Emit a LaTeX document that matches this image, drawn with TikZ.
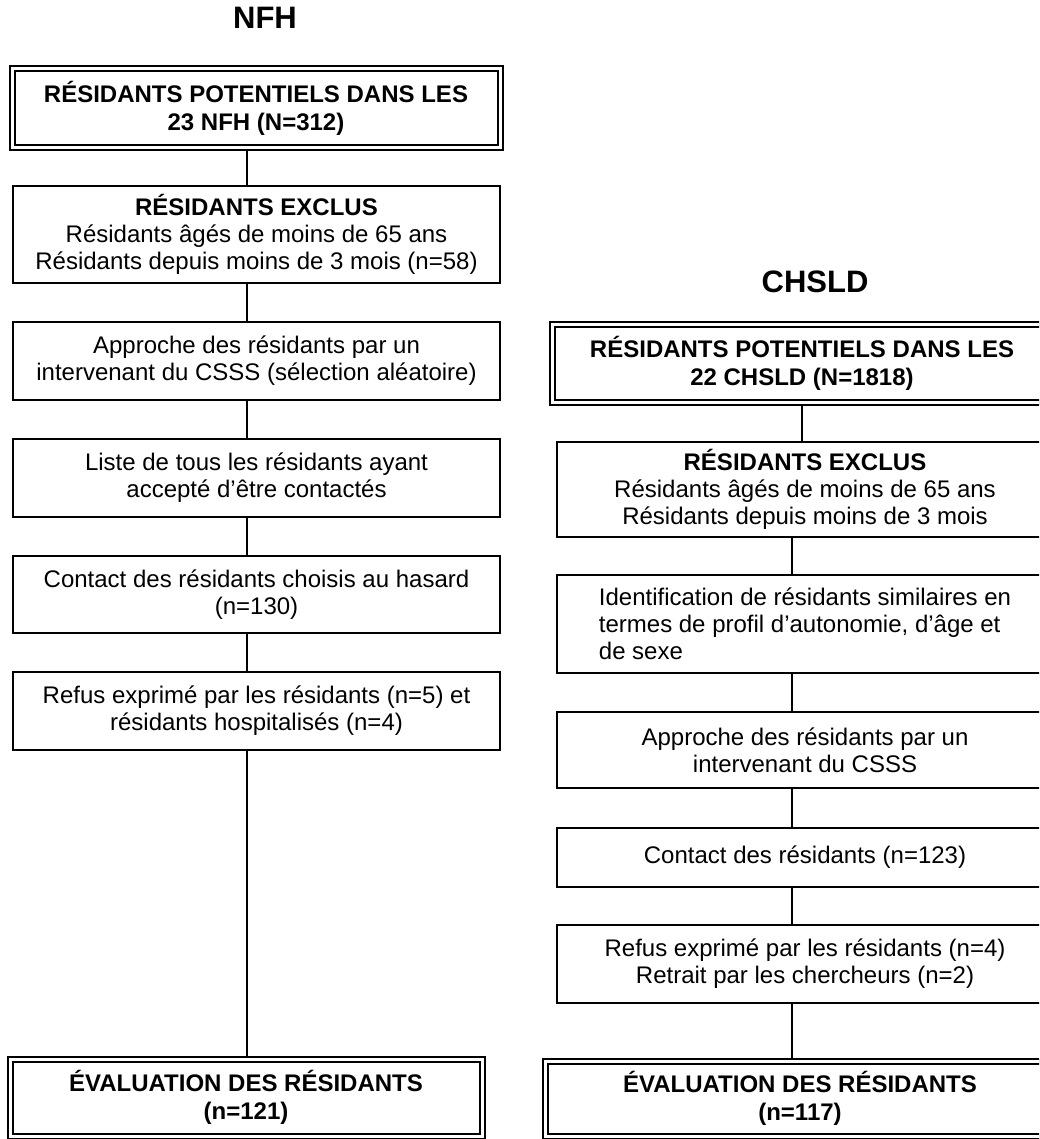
\documentclass[tikz,border=0pt]{standalone}
\usepackage{fontspec}
\setmainfont{Liberation Sans}
\usetikzlibrary{backgrounds}
\begin{document}
\begin{tikzpicture}[x=1pt,y=-1pt,
  txt/.style={font=\fontsize{24}{27}\selectfont, align=center, inner sep=0pt},
  bftxt/.style={font=\fontsize{24}{28}\selectfont\bfseries, align=center, inner sep=0pt},
  ttl/.style={font=\fontsize{31}{36}\selectfont\bfseries, inner sep=0pt},
  box/.style={txt, draw, line width=1.4pt, fill=white},
  dbox/.style={bftxt, draw, double, double distance=3pt, line width=2pt},
  conn/.style={line width=1.3pt}
]
\useasboundingbox (0,0) rectangle (1039,1139);
\clip (0,0) rectangle (1039,1139);

% titles
\node[ttl] (t1) at (265,18) {NFH};
\node[ttl] (t2) at (815,282) {CHSLD};

% left column
\node[dbox, minimum width=488pt, minimum height=79pt] (L1) at (256,108)
  {RÉSIDANTS POTENTIELS DANS LES\\23 NFH (N=312)};
\node[box, minimum width=487pt, minimum height=97pt] (L2) at (256.5,234.5)
  {{\bfseries RÉSIDANTS EXCLUS}\\Résidants âgés de moins de 65 ans\\Résidants depuis moins de 3 mois (n=58)};
\node[box, minimum width=487pt, minimum height=78pt] (L3) at (256.5,361)
  {Approche des résidants par un\\intervenant du CSSS (sélection aléatoire)};
\node[box, minimum width=487pt, minimum height=78pt] (L4) at (256.5,478)
  {Liste de tous les résidants ayant\\accepté d’être contactés};
\node[box, minimum width=487pt, minimum height=77pt] (L5) at (256.5,594.5)
  {Contact des résidants choisis au hasard\\(n=130)};
\node[box, minimum width=487pt, minimum height=78pt] (L6) at (256.5,711)
  {Refus exprimé par les résidants (n=5) et\\résidants hospitalisés (n=4)};
\node[dbox, minimum width=472pt, minimum height=76.5pt] (L7) at (246,1097.75)
  {ÉVALUATION DES RÉSIDANTS\\(n=121)};

% right column (boxes run past the right edge)
\node[dbox, minimum width=500pt, minimum height=78.5pt] (R1) at (802,363.25)
  {RÉSIDANTS POTENTIELS DANS LES\\22 CHSLD (N=1818)};
\node[box, minimum width=496pt, minimum height=95pt] (R2) at (805,489.5)
  {{\bfseries RÉSIDANTS EXCLUS}\\Résidants âgés de moins de 65 ans\\Résidants depuis moins de 3 mois};
\node[box, align=left, minimum width=496pt, minimum height=98pt] (R3) at (805,624)
  {Identification de résidants similaires en\\termes de profil d’autonomie, d’âge et\\de sexe};
\node[box, minimum width=496pt, minimum height=76pt] (R4) at (805,750)
  {Approche des résidants par un\\intervenant du CSSS};
\node[box, minimum width=496pt, minimum height=59pt] (R5) at (805,857.5)
  {Contact des résidants (n=123)};
\node[box, minimum width=496pt, minimum height=78pt] (R6) at (805,964)
  {Refus exprimé par les résidants (n=4)\\Retrait par les chercheurs (n=2)};
\node[dbox, minimum width=510pt, minimum height=74.5pt] (R7) at (800,1098.75)
  {ÉVALUATION DES RÉSIDANTS\\(n=117)};

\coordinate (lx) at (247,0);
\coordinate (rxa) at (802,0);
\coordinate (rx) at (792,0);

\begin{scope}[on background layer]
\draw[conn] (L1.south -| lx) -- (L2.north -| lx);
\draw[conn] (L2.south -| lx) -- (L3.north -| lx);
\draw[conn] (L3.south -| lx) -- (L4.north -| lx);
\draw[conn] (L4.south -| lx) -- (L5.north -| lx);
\draw[conn] (L5.south -| lx) -- (L6.north -| lx);
\draw[conn] (L6.south -| lx) -- (L7.north -| lx);
\draw[conn] (R1.south -| rxa) -- (R2.north -| rxa);
\draw[conn] (R2.south -| rx) -- (R3.north -| rx);
\draw[conn] (R3.south -| rx) -- (R4.north -| rx);
\draw[conn] (R4.south -| rx) -- (R5.north -| rx);
\draw[conn] (R5.south -| rx) -- (R6.north -| rx);
\draw[conn] (R6.south -| rx) -- (R7.north -| rx);
\end{scope}
\end{tikzpicture}
\end{document}
